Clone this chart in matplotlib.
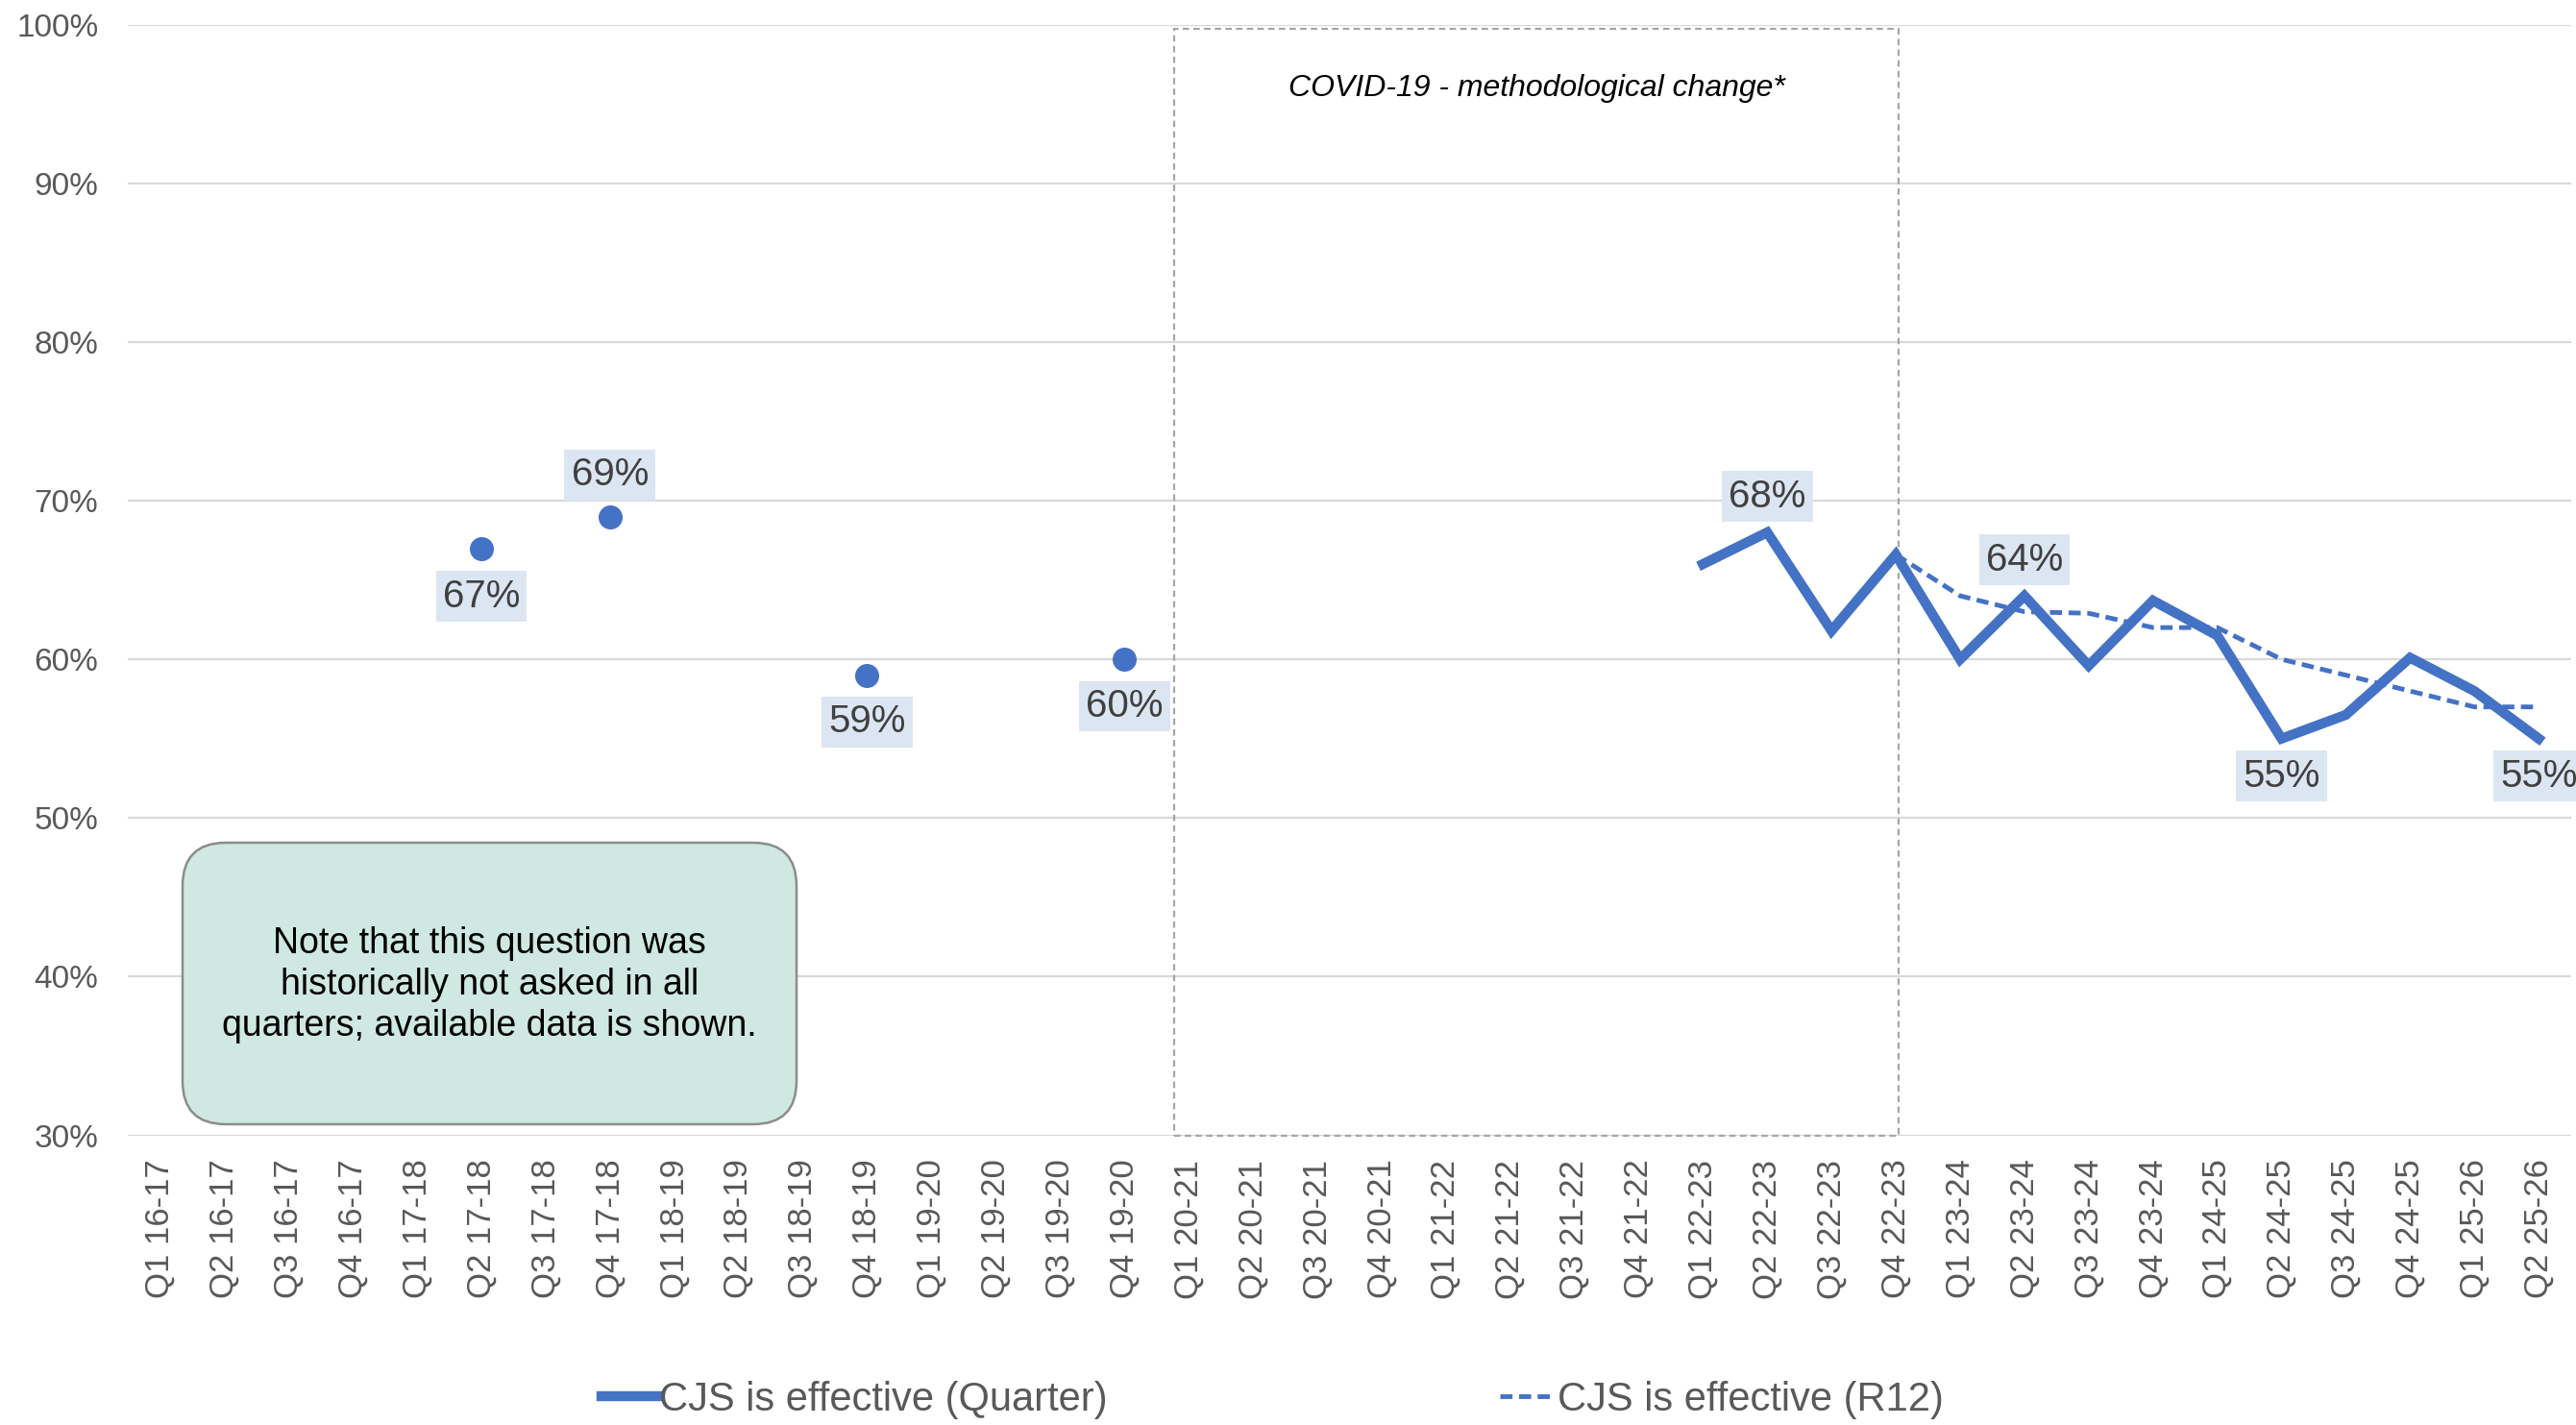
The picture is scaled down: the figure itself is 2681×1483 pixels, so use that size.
#!/usr/bin/env python3
"""Public confidence that the CJS is effective, quarterly and rolling 12 months."""

import matplotlib
matplotlib.use('Agg')
import matplotlib.pyplot as plt
import numpy as np
from matplotlib.patches import FancyBboxPatch, Rectangle

plt.rcParams['font.family'] = ['Liberation Sans', 'DejaVu Sans']

BLUE = '#4472C4'
TEXT_GREY = '#595959'
LABEL_GREY = '#404040'
GRID = '#D9D9D9'

QUARTERS = [f'Q{q} {y:02d}-{y + 1:02d}' for y in range(16, 25) for q in range(1, 5)]
QUARTERS += ['Q1 25-26', 'Q2 25-26']

nan = np.nan
QUARTER_PCT = [
    nan, nan, nan, nan,          # 16-17
    nan, 67, nan, 69,            # 17-18
    nan, nan, nan, 59,           # 18-19
    nan, nan, nan, 60,           # 19-20
    nan, nan, nan, nan,          # 20-21
    nan, nan, nan, nan,          # 21-22
    66.0, 68, 61.8, 66.6,        # 22-23
    60.0, 64, 59.6, 63.7,        # 23-24
    61.5, 55, 56.5, 60.1,        # 24-25
    58.0, 55,                    # 25-26
]
R12_PCT = [nan] * 27 + [66.6, 64.0, 63.0, 62.9, 62.0, 62.0, 60.0, 59.0, 58.0, 57.0, 57.0]

# which quarterly points carry a value label, and the offset (pt) above/below
LABELLED = {5: -36, 7: 31, 11: -35, 15: -35, 25: 27, 29: 27, 33: -28, 37: -28}

x = np.arange(len(QUARTERS))
q = np.array(QUARTER_PCT, dtype=float)
r12 = np.array(R12_PCT, dtype=float)

fig = plt.figure(figsize=(26.81, 14.83), dpi=100)
ax = fig.add_axes([0.0496, 0.2033, 0.9484, 0.7794])

# quarterly series: joined line where consecutive, dots where isolated
ax.plot(x, q, color=BLUE, lw=7.5, solid_joinstyle='miter', zorder=4,
        label='CJS is effective (Quarter)')
prev = np.r_[nan, q[:-1]]
nxt = np.r_[q[1:], nan]
lone = ~np.isnan(q) & np.isnan(prev) & np.isnan(nxt)
ax.plot(x[lone], q[lone], 'o', color=BLUE, ms=17, zorder=4)

ax.plot(x, r12, color=BLUE, lw=3.5, ls=(0, (2.6, 1.4)), zorder=3,
        label='CJS is effective (R12)')

for i, dy in LABELLED.items():
    ax.annotate(f'{q[i]:.0f}%', (x[i], q[i]), xytext=(0, dy), textcoords='offset points',
                ha='center', va='center', fontsize=29, color=LABEL_GREY, zorder=6,
                annotation_clip=False,
                bbox=dict(boxstyle='square,pad=0.18', fc='#DCE6F2', ec='none'))

# COVID-19 period box
ax.add_patch(Rectangle((15.78, 30), 27.05 - 15.78, 99.75 - 30, fill=False,
                       ec='#A6A6A6', lw=1.6, ls=(0, (3, 2)), zorder=2, clip_on=False))
ax.text((15.78 + 27.05) / 2, 96.0, 'COVID-19 - methodological change*', style='italic',
        fontsize=23, ha='center', va='center', color='black')

ax.set_xlim(-0.5, len(QUARTERS) - 0.5)
ax.set_ylim(30, 100)
ax.set_yticks(range(30, 101, 10))
ax.set_yticklabels([f'{v}%' for v in range(30, 101, 10)])
ax.set_xticks(x)
ax.set_xticklabels(QUARTERS, rotation=90, ha='center', va='top')
ax.tick_params(axis='y', length=0, pad=22, labelsize=24, labelcolor=TEXT_GREY)
ax.tick_params(axis='x', length=0, pad=18, labelsize=25, labelcolor=TEXT_GREY)
ax.grid(axis='y', color=GRID, lw=1.6)
ax.set_axisbelow(True)
for s in ax.spines.values():
    s.set_visible(False)

# note about missing quarters
note = FancyBboxPatch((1.90, 3.13), 8.29 - 1.90, 6.06 - 3.13,
                      boxstyle='round,pad=0,rounding_size=0.45', mutation_scale=1,
                      transform=fig.dpi_scale_trans, fc='#CFE8E2', ec='#8C8C8C', lw=1.8,
                      zorder=5)
fig.add_artist(note)
fig.text(0.190, 0.3085, 'Note that this question was\nhistorically not asked in all\n'
         'quarters; available data is shown.', ha='center', va='center',
         fontsize=27, linespacing=1.25, color='black', zorder=6)

fig.legend(loc='center', bbox_to_anchor=(0.494, 0.0175), ncol=2, frameon=False,
           fontsize=30, labelcolor=TEXT_GREY, handlelength=1.4, handletextpad=0.05,
           columnspacing=9.8)

fig.savefig('out.png', dpi=100)
